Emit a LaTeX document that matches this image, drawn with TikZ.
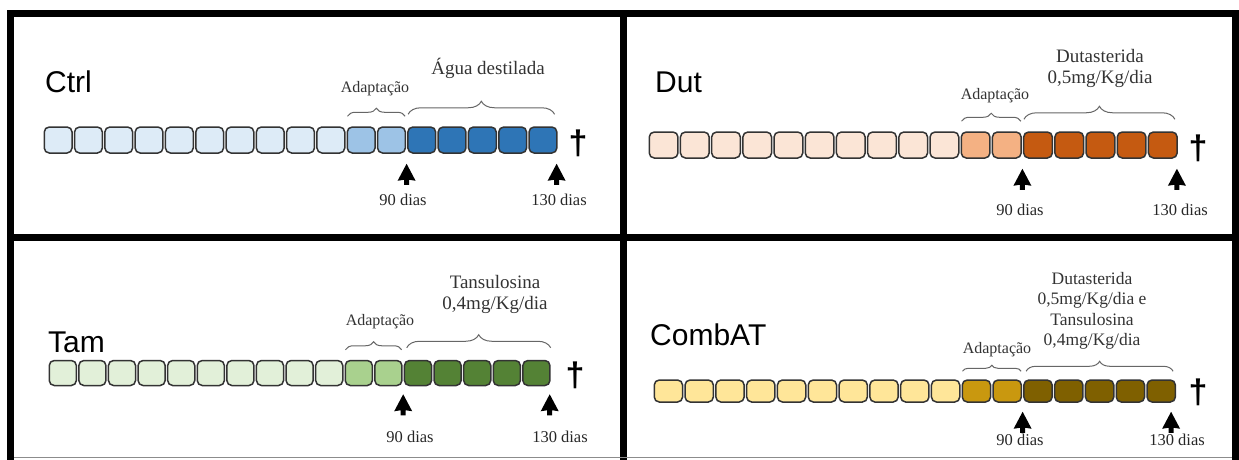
\documentclass[tikz,border=0pt]{standalone}
\usepackage{fontspec}
\setmainfont{Liberation Serif}
\newfontfamily\titlefont{Liberation Sans}
\usetikzlibrary{decorations.pathreplacing,calc}

% fills for the three phases of each group
\definecolor{ctrlA}{HTML}{DDEBF7}
\definecolor{ctrlB}{HTML}{9DC3E6}
\definecolor{ctrlC}{HTML}{2E75B6}
\definecolor{dutA}{HTML}{FBE5D6}
\definecolor{dutB}{HTML}{F4B183}
\definecolor{dutC}{HTML}{C55A11}
\definecolor{tamA}{HTML}{E2F0D9}
\definecolor{tamB}{HTML}{A9D18E}
\definecolor{tamC}{HTML}{548235}
\definecolor{combA}{HTML}{FFE699}
\definecolor{combB}{HTML}{C9980F}
\definecolor{combC}{HTML}{7F6000}

\tikzset{
  cell/.style={draw=black!80, line width=1.5pt, rounded corners=5pt, inner sep=0pt},
  grp/.style={font=\titlefont\fontsize{30}{30}\selectfont, anchor=west, inner sep=0pt},
  phase/.style={font=\fontsize{19}{21}\selectfont, text=black!80, align=center, inner sep=1pt},
  adapt/.style={font=\fontsize{16}{18}\selectfont, text=black!80, inner sep=1pt},
  day/.style={font=\fontsize{16.5}{18}\selectfont, text=black!85, inner sep=1pt},
  dagger/.style={font=\titlefont\bfseries\fontsize{34}{34}\selectfont, inner sep=0pt},
  brace/.style={draw=black!60, line width=1pt, decorate, decoration={brace, amplitude=#1}},
  brace/.default=8pt,
  frame/.style={line width=7pt},
}

% 17 cells: name, left x, centre y, pitch, height, fills (10 + 2 + 5)
\newcommand\timeline[8]{%
  \foreach \k in {1,...,17}{%
    \ifnum\k<11 \def\cellfill{#6}\else\ifnum\k<13 \def\cellfill{#7}\else\def\cellfill{#8}\fi\fi
    \node[cell, minimum width=#4pt-2.5pt, minimum height=#5pt, fill=\cellfill]
      (#1\k) at ({#2+(\k-0.5)*#4}, #3) {};
  }%
}

% filled marker pointing up, tip at the given coordinate
\newcommand\daymark[1]{%
  \fill[black] (#1) -- ++(-9,17) -- ++(6.5,-1) -- ++(0,5) -- ++(5,0)
    -- ++(0,-5) -- ++(6.5,1) -- cycle;
}

\begin{document}
\begin{tikzpicture}[x=1pt, y=-1pt]
\useasboundingbox (0,0) rectangle (1239,459);

% ---------- frame ----------
\draw[frame] (10.5,470) -- (10.5,13.5) -- (1235.5,13.5) -- (1235.5,470);
\draw[frame] (623,13.5) -- (623,470);
\draw[frame] (10.5,237.5) -- (1235.5,237.5);
\draw[black!45, line width=1pt] (14,457.5) -- (1232,457.5);

% ---------- Ctrl ----------
\node[grp] (ctrl) at (45,82) {Ctrl};
\timeline{c}{43}{140}{30.3}{26}{ctrlA}{ctrlB}{ctrlC}
\node[dagger] (cdag) at (578,143) {†};
\coordinate (c90) at ($(c12.south east)!0.5!(c13.south west)+(0,10)$);
\coordinate (c130) at ($(c17.south east)+(-1,10)$);
\daymark{c90}\daymark{c130}
\node[day] (c90t) at (403,200) {90 dias};
\node[day] (c130t) at (559,200) {130 dias};
\node[adapt] (cad) at (375,89) {Adaptação};
\draw[brace] ($(c11.north west)+(1,-10)$) -- ($(c12.north east)+(-1,-10)$);
\node[phase] (cph) at (488,68) {Água destilada};
\draw[brace=13pt] ($(c13.north west)+(1,-12)$) -- ($(c17.north east)+(-3,-12)$);

% ---------- Dut ----------
\node[grp] (dut) at (655,82) {Dut};
\timeline{d}{648}{145}{31.2}{26}{dutA}{dutB}{dutC}
\node[dagger] (ddag) at (1198,148) {†};
\coordinate (d90) at ($(d12.south east)!0.5!(d13.south west)+(0,10)$);
\coordinate (d130) at ($(d17.south east)+(-1,10)$);
\daymark{d90}\daymark{d130}
\node[day] (d90t) at (1020,210) {90 dias};
\node[day] (d130t) at (1180,210) {130 dias};
\node[adapt] (dad) at (995,96) {Adaptação};
\draw[brace] ($(d11.north west)+(1,-10)$) -- ($(d12.north east)+(-1,-10)$);
\node[phase] (dph) at (1100,68) {Dutasterida\\0,5mg/Kg/dia};
\draw[brace=13pt] ($(d13.north west)+(1,-12)$) -- ($(d17.north east)+(-3,-12)$);

% ---------- Tam ----------
\node[grp] (tam) at (48,342) {Tam};
\timeline{t}{48}{373}{29.6}{25}{tamA}{tamB}{tamC}
\node[dagger] (tdag) at (575,375) {†};
\coordinate (t90) at ($(t12.south east)!0.5!(t13.south west)+(0,8)$);
\coordinate (t130) at ($(t17.south east)+(-1,8)$);
\daymark{t90}\daymark{t130}
\node[day] (t90t) at (410,437) {90 dias};
\node[day] (t130t) at (560,437) {130 dias};
\node[adapt] (tad) at (380,322) {Adaptação};
\draw[brace] ($(t11.north west)+(1,-10)$) -- ($(t12.north east)+(-1,-10)$);
\node[phase] (tph) at (495,294) {Tansulosina\\0,4mg/Kg/dia};
\draw[brace=13pt] ($(t13.north west)+(3,-12)$) -- ($(t17.north east)+(0,-12)$);

% ---------- CombAT ----------
\node[grp] (comb) at (650,335) {CombAT};
\timeline{b}{653}{391}{30.8}{22}{combA}{combB}{combC}
\node[dagger] (bdag) at (1198,392) {†};
\coordinate (b90) at ($(b12.south east)!0.5!(b13.south west)+(0,9)$);
\coordinate (b130) at ($(b17.south east)+(-5,9)$);
\daymark{b90}\daymark{b130}
\node[day] (b90t) at (1020,440) {90 dias};
\node[day] (b130t) at (1177,440) {130 dias};
\node[adapt] (bad) at (997,350) {Adaptação};
\draw[brace=6pt] ($(b11.north west)+(1,-8)$) -- ($(b12.north east)+(-1,-8)$);
\node[phase, font=\fontsize{17.5}{20.5}\selectfont] (bph) at (1092,311)
  {Dutasterida\\0,5mg/Kg/dia e\\Tansulosina\\0,4mg/Kg/dia};
\draw[brace=10pt] ($(b13.north west)+(3,-8)$) -- ($(b17.north east)+(-3,-8)$);
\end{tikzpicture}
\end{document}
